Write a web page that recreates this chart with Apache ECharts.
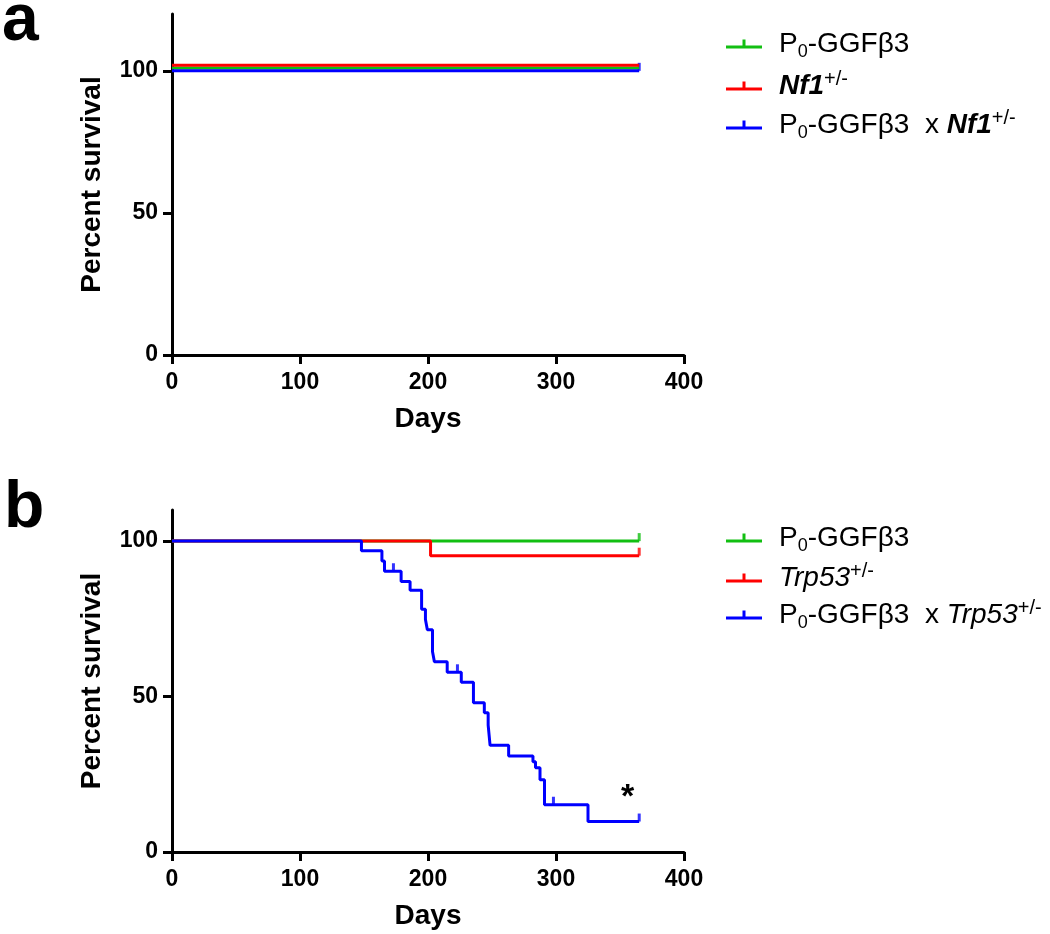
<!DOCTYPE html>
<html>
<head>
<meta charset="utf-8">
<script src="https://cdn.jsdelivr.net/npm/echarts@6/dist/echarts.min.js"></script>
<style>
  html, body { margin: 0; padding: 0; background: #fff; }
  #chart { width: 1050px; height: 934px; }
</style>
</head>
<body>
<div id="chart"></div>
<script>
// x axis (days) and y axis (percent) ticks
const dayTicks = [0, 100, 200, 300, 400];
const pctTicks = [0, 50, 100];

// panel a: nobody died within a year
const aGgf = [[0, 100], [365, 100]];
const aNf1 = [[0, 100], [365, 100]];
const aCombo = [[0, 100], [365, 100]];
const aComboCensor = [[365, 100]];

// panel b
const bGgf = [[0, 100], [365, 100]];
const bTrp = [[0, 100], [202, 95.3], [365, 95.3]];
const bCombo = [
  [0, 100], [148, 96.9], [164, 93.6], [166, 90.3], [179, 87.0], [186, 84.2],
  [195, 78.1], [198, 74.8], [199.5, 71.5], [203.5, 64.5], [205, 61.2],
  [215, 57.8], [226, 54.6], [235.5, 48.0], [244, 44.8], [247, 40.8],
  [248.5, 34.3], [263, 30.9], [282, 29.0], [284, 27.1], [287.5, 23.2],
  [291, 15.2], [325, 9.8], [365, 9.8]
];
const bGgfCensor = [[365, 100]];
const bTrpCensor = [[365, 95.3]];
const bComboCensor = [[173, 90.3], [223, 57.8], [298, 15.2], [365, 9.8]];
const starPoint = [356, 20];

const GREEN = '#12bf12';
const RED = '#ff0000';
const BLUE = '#0000ff';
const FONT = '"Liberation Sans", Arial, sans-serif';

const legendNames = {
  a_ggf: '{n|P}{sub|0}{n|-GGFβ3}',
  a_nf1: '{bi|Nf1}{sup|+/-}',
  a_combo: '{n|P}{sub|0}{n|-GGFβ3  x }{bi|Nf1}{sup|+/-}',
  b_ggf: '{n|P}{sub|0}{n|-GGFβ3}',
  b_trp: '{i|Trp53}{sup|+/-}',
  b_combo: '{n|P}{sub|0}{n|-GGFβ3  x }{i|Trp53}{sup|+/-}'
};

const rich = {
  n: { fontSize: 28, lineHeight: 34, fontFamily: FONT, color: '#000' },
  i: { fontSize: 28, lineHeight: 34, fontFamily: FONT, fontStyle: 'italic', color: '#000' },
  bi: { fontSize: 28, lineHeight: 34, fontFamily: FONT, fontStyle: 'italic', fontWeight: 'bold', color: '#000' },
  sub: { fontSize: 18, lineHeight: 18, fontFamily: FONT, verticalAlign: 'bottom', color: '#000' },
  sup: { fontSize: 20, lineHeight: 18, fontFamily: FONT, verticalAlign: 'top', color: '#000' }
};

function makeX(gridIndex) {
  return {
    type: 'value', gridIndex: gridIndex, min: 0, max: 400, interval: 100,
    name: 'Days', nameLocation: 'middle', nameGap: 50,
    nameTextStyle: { fontSize: 28, fontWeight: 'bold', fontFamily: FONT, color: '#000' },
    axisLine: { show: true, onZero: false, lineStyle: { color: '#000', width: 3 } },
    axisTick: { show: true, length: 9, customValues: dayTicks, lineStyle: { color: '#000', width: 3 } },
    axisLabel: { fontSize: 23, fontWeight: 'bold', fontFamily: FONT, color: '#000', margin: 16, customValues: dayTicks },
    splitLine: { show: false }
  };
}

function makeY(gridIndex, max) {
  return {
    type: 'value', gridIndex: gridIndex, min: 0, max: max,
    name: 'Percent survival', nameLocation: 'middle', nameGap: 66, nameRotate: 90,
    nameTextStyle: { fontSize: 28, fontWeight: 'bold', fontFamily: FONT, color: '#000' },
    axisLine: { show: true, onZero: false, lineStyle: { color: '#000', width: 3 } },
    axisTick: { show: true, length: 9, customValues: pctTicks, lineStyle: { color: '#000', width: 3 } },
    axisLabel: { fontSize: 23, fontWeight: 'bold', fontFamily: FONT, color: '#000', margin: 14, customValues: pctTicks },
    splitLine: { show: false }
  };
}

// hidden axes shift overlapping flat lines a few pixels apart, like the original plot
function shiftY(shift) {
  return { type: 'value', gridIndex: 0, min: -shift, max: 120 - shift, show: false };
}

function curve(name, data, color, xi, yi) {
  return {
    name: name, type: 'line', step: 'end', data: data,
    xAxisIndex: xi, yAxisIndex: yi, showSymbol: false, silent: true,
    lineStyle: { color: color, width: 3 }, itemStyle: { color: color }
  };
}

function censor(data, color, xi, yi) {
  return {
    type: 'scatter', data: data, xAxisIndex: xi, yAxisIndex: yi, silent: true,
    symbol: 'rect', symbolSize: [3, 8], symbolOffset: [0, -4],
    itemStyle: { color: color }
  };
}

function makeLegend(names, top, gap) {
  return {
    orient: 'vertical', left: 721, top: top, itemGap: gap,
    itemWidth: 36, itemHeight: 10,
    icon: 'path://M0,7h36v3h-36z M16.5,1h3v6h-3z',
    data: names,
    formatter: function (name) { return legendNames[name]; },
    textStyle: { rich: rich, padding: [0, 0, 0, 12] },
    selectedMode: false
  };
}

const chart = echarts.init(document.getElementById('chart'));

const comboB = curve('b_combo', bCombo, BLUE, 1, 3);
comboB.markPoint = {
  symbol: 'circle', symbolSize: 20,
  itemStyle: { color: 'rgba(0,0,0,0)' },
  label: { show: true, formatter: '*', fontSize: 34, fontWeight: 'bold', fontFamily: FONT, color: '#000', offset: [0, 8] },
  data: [{ coord: starPoint }]
};

const option = {
  animation: false,
  title: [
    { text: 'a', left: -3, top: -16, textStyle: { fontSize: 66, fontWeight: 'bold', fontFamily: FONT, color: '#000' } },
    { text: 'b', left: -1, top: 471, textStyle: { fontSize: 66, fontWeight: 'bold', fontFamily: FONT, color: '#000' } }
  ],
  grid: [
    { left: 172, top: 14, width: 512, height: 341 },
    { left: 172, top: 510, width: 512, height: 342 }
  ],
  legend: [
    makeLegend(['a_ggf', 'a_nf1', 'a_combo'], 25, 8),
    makeLegend(['b_ggf', 'b_trp', 'b_combo'], 519, 6)
  ],
  xAxis: [makeX(0), makeX(1)],
  yAxis: [makeY(0, 120), shiftY(1), shiftY(2), makeY(1, 110)],
  series: [
    curve('a_ggf', aGgf, GREEN, 0, 1),
    curve('a_nf1', aNf1, RED, 0, 2),
    curve('a_combo', aCombo, BLUE, 0, 0),
    censor(aComboCensor, BLUE, 0, 0),
    curve('b_ggf', bGgf, GREEN, 1, 3),
    curve('b_trp', bTrp, RED, 1, 3),
    comboB,
    censor(bGgfCensor, GREEN, 1, 3),
    censor(bTrpCensor, RED, 1, 3),
    censor(bComboCensor, BLUE, 1, 3)
  ]
};

chart.setOption(option);
</script>
</body>
</html>
